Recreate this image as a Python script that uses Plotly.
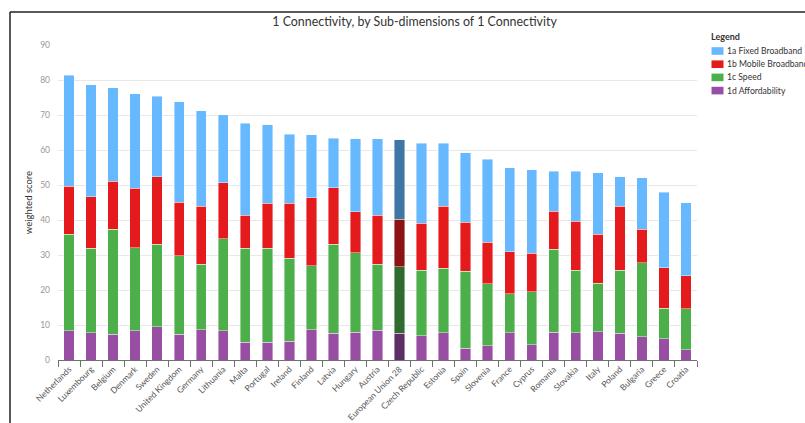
import plotly.graph_objects as go

countries = ["Netherlands", "Luxembourg", "Belgium", "Denmark", "Sweden", "United Kingdom",
             "Germany", "Lithuania", "Malta", "Portugal", "Ireland", "Finland", "Latvia",
             "Hungary", "Austria", "European Union 28", "Czech Republic", "Estonia", "Spain",
             "Slovenia", "France", "Cyprus", "Romania", "Slovakia", "Italy", "Poland",
             "Bulgaria", "Greece", "Croatia"]

affordability = [8.3, 7.8, 7.4, 8.3, 9.5, 7.4, 8.7, 8.3, 5.1, 5.1, 5.4, 8.7, 7.6, 8.0, 8.5,
                 7.6, 7.0, 7.8, 3.3, 4.1, 7.8, 4.4, 8.0, 7.8, 8.1, 7.6, 6.6, 6.1, 2.9]
speed = [27.7, 24.1, 30.0, 23.8, 23.6, 22.4, 18.7, 26.4, 26.8, 26.8, 23.7, 18.3, 25.5, 22.7, 18.9,
         19.1, 18.6, 18.4, 22.0, 17.7, 11.1, 15.1, 23.6, 17.8, 13.9, 18.0, 21.2, 8.7, 11.8]
mobile = [13.6, 14.7, 13.7, 17.0, 19.3, 15.3, 16.5, 15.9, 9.5, 12.9, 15.7, 19.3, 16.1, 11.7, 13.9,
          13.5, 13.5, 17.8, 14.0, 11.8, 12.0, 11.0, 10.9, 14.1, 13.9, 18.4, 9.5, 11.5, 9.4]
fixed = [31.8, 32.1, 26.7, 27.0, 22.9, 28.7, 27.3, 19.5, 26.2, 22.4, 19.7, 18.0, 14.2, 20.8, 21.9,
         22.7, 22.9, 18.0, 19.9, 23.7, 24.0, 23.9, 11.4, 14.2, 17.6, 8.3, 14.8, 21.6, 20.8]

highlight = "European Union 28"

series = [
    ("1d Affordability", affordability, "#984ea3", "#5e2f66"),
    ("1c Speed", speed, "#4daf4a", "#2f6b2e"),
    ("1b Mobile Broadband", mobile, "#e41a1c", "#8c1215"),
    ("1a Fixed Broadband", fixed, "#66b8ff", "#3e77a6"),
]
legend_order = ["1a Fixed Broadband", "1b Mobile Broadband", "1c Speed", "1d Affordability"]

FONT = "Lato"
W, H = 805, 423
ML, MR, MT, MB = 58, 108, 45, 63
PW, PH = W - ML - MR, H - MT - MB


def px_x(px):
    return (px - ML) / PW


def px_y(py):
    return 1 - (py - MT) / PH


fig = go.Figure()
for name, vals, col, dark in series:
    colors = [dark if c == highlight else col for c in countries]
    fig.add_trace(go.Bar(
        x=countries, y=vals, name=name, showlegend=False,
        marker=dict(color=colors, line=dict(color="rgba(255,255,255,0.7)", width=0.6)),
    ))

fig.update_layout(
    barmode="stack",
    bargap=0.53,
    width=W, height=H,
    margin=dict(l=ML, r=MR, t=MT, b=MB, autoexpand=False),
    paper_bgcolor="white",
    plot_bgcolor="white",
    font=dict(family=FONT, size=9, color="#333333"),
    title=dict(text="1 Connectivity, by Sub-dimensions of 1 Connectivity",
               x=0.515, xref="container", xanchor="center",
               y=1 - 22 / H, yref="container", yanchor="middle",
               font=dict(family=FONT, size=12.4, color="#333333")),
    xaxis=dict(
        tickangle=-45, automargin=False,
        tickfont=dict(family=FONT, size=8.5, color="#555555"),
        showline=True, linecolor="#707070", linewidth=1,
        ticks="outside", tickson="boundaries", ticklen=6, tickcolor="#707070",
        showgrid=False,
    ),
    yaxis=dict(
        range=[0, 90], dtick=10, automargin=False,
        tickfont=dict(family=FONT, size=8.5, color="#999999"),
        ticklabelstandoff=7,
        gridcolor="#e8e8e8", gridwidth=1,
        zeroline=False, showline=False,
        title=dict(text="weighted score", font=dict(family=FONT, size=9.5, color="#333333"), standoff=5),
    ),
    showlegend=False,
)

# custom legend (box-style like the reference)
color_of = {name: col for name, _, col, _ in series}
fig.add_annotation(xref="paper", yref="paper", x=px_x(709), y=px_y(36), xanchor="left", yanchor="middle",
                   text="<b>Legend</b>", showarrow=False, font=dict(family=FONT, size=9, color="#333333"))
for i, name in enumerate(legend_order):
    yc = 51 + i * 13.2
    fig.add_shape(type="rect", xref="paper", yref="paper",
                  x0=px_x(711.5), x1=px_x(723.5), y0=px_y(yc - 3.8), y1=px_y(yc + 3.8),
                  fillcolor=color_of[name], line=dict(width=0))
    fig.add_annotation(xref="paper", yref="paper", x=px_x(724.5), y=px_y(yc), xanchor="left", yanchor="middle",
                       text=name, showarrow=False, font=dict(family=FONT, size=8.6, color="#333333"))

# outer frame (top and left edges visible in reference)
fig.add_shape(type="line", xref="paper", yref="paper", x0=px_x(10), x1=px_x(820), y0=px_y(12), y1=px_y(12),
              line=dict(color="#222222", width=1.5), layer="above")
fig.add_shape(type="line", xref="paper", yref="paper", x0=px_x(10), x1=px_x(10), y0=px_y(430), y1=px_y(12),
              line=dict(color="#222222", width=1.5), layer="above")

fig.write_html("out.html",
               config={"displayModeBar": False},
               post_script="document.body.style.margin='0';document.body.style.overflow='hidden';")
